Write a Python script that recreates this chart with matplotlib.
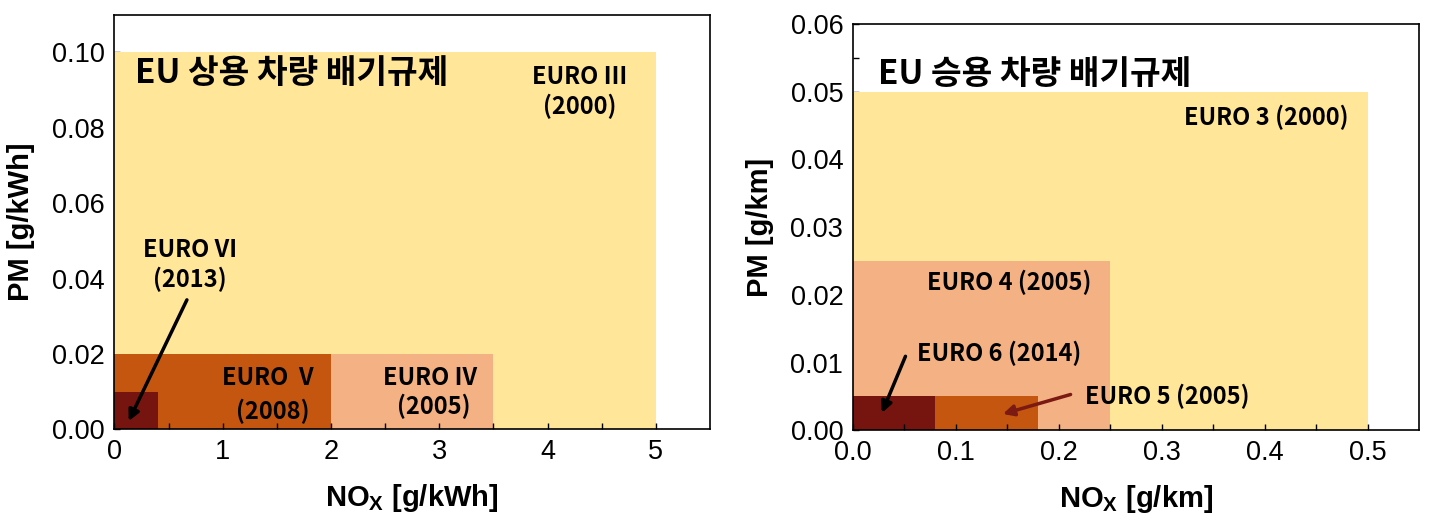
import matplotlib.pyplot as plt
from matplotlib.patches import Rectangle

plt.rcParams['font.family'] = ['Liberation Sans', 'DejaVu Sans']
plt.rcParams['mathtext.fontset'] = 'custom'
plt.rcParams['mathtext.rm'] = 'Liberation Sans:bold'

KR = ['Noto Sans CJK KR', 'DejaVu Sans']

# 상용 차량 (heavy duty) - NOx [g/kWh], PM [g/kWh]
hd_stage = ['EURO III', 'EURO IV', 'EURO V', 'EURO VI']
hd_nox = [5.0, 3.5, 2.0, 0.4]
hd_pm = [0.10, 0.02, 0.02, 0.01]

# 승용 차량 (passenger car) - NOx [g/km], PM [g/km]
pc_stage = ['EURO 3', 'EURO 4', 'EURO 5', 'EURO 6']
pc_nox = [0.50, 0.25, 0.18, 0.08]
pc_pm = [0.05, 0.025, 0.005, 0.005]

colors = ['#FFE699', '#F4B183', '#C4560F', '#76150F']

fig = plt.figure(figsize=(14.49, 5.28), dpi=100)
ax1 = fig.add_axes([0.079, 0.187, 0.411, 0.785])
ax2 = fig.add_axes([0.5887, 0.185, 0.3906, 0.770])


def draw_boxes(ax, nox, pm):
    for i in range(len(nox)):
        ax.add_patch(Rectangle((0, 0), nox[i], pm[i], facecolor=colors[i],
                               edgecolor='none', zorder=1))


def style(ax, xlim, ylim, xticks, yticks, xminor, yminor, xlab, ylab):
    ax.set_xlim(xlim)
    ax.set_ylim(ylim)
    ax.set_xticks(xticks)
    ax.set_yticks(yticks)
    ax.set_xticks(xminor, minor=True)
    ax.set_yticks(yminor, minor=True)
    ax.tick_params(which='both', direction='in', length=4, width=1,
                   labelsize=19.5, pad=7, top=False, right=False)
    ax.yaxis.set_zorder(0.5)
    for s in ax.spines.values():
        s.set_linewidth(1.2)
    ax.set_xlabel(xlab, fontsize=21, fontweight='bold', labelpad=12)
    ax.set_ylabel(ylab, fontsize=21, fontweight='bold', labelpad=12)


def label(ax, x, y, s, size=17, **kw):
    ax.text(x, y, s, family=KR, fontsize=size, fontweight='bold',
            ha='center', va='center', **kw)


# ---- 왼쪽: 상용 차량 ----
draw_boxes(ax1, hd_nox, hd_pm)
style(ax1, (0, 5.5), (0, 0.11), [0, 1, 2, 3, 4, 5],
      [0.00, 0.02, 0.04, 0.06, 0.08, 0.10],
      [0.5, 1.5, 2.5, 3.5, 4.5], [0.01, 0.03, 0.05, 0.07, 0.09],
      r'NO$_\mathrm{X}$ [g/kWh]', 'PM [g/kWh]')
ax1.yaxis.set_major_formatter(plt.FormatStrFormatter('%.2f'))

ax1.text(0.19, 0.0945, 'EU 상용 차량 배기규제', family=KR, fontsize=24,
         fontweight='bold', ha='left', va='center')
label(ax1, 4.3, 0.0895, 'EURO Ⅲ\n(2000)', linespacing=1.25)
label(ax1, 0.7, 0.0435, 'EURO VI\n(2013)', linespacing=1.25)
label(ax1, 1.42, 0.0136, 'EURO  V')
label(ax1, 1.46, 0.0048, '(2008)')
label(ax1, 2.91, 0.0136, 'EURO IV')
label(ax1, 2.95, 0.0061, '(2005)')
ax1.annotate('', xy=(0.12, 0.0015), xytext=(0.68, 0.035),
             arrowprops=dict(arrowstyle='-|>', color='black', lw=2.5,
                             mutation_scale=16))

# ---- 오른쪽: 승용 차량 ----
draw_boxes(ax2, pc_nox, pc_pm)
style(ax2, (0, 0.55), (0, 0.06), [0.0, 0.1, 0.2, 0.3, 0.4, 0.5],
      [0.00, 0.01, 0.02, 0.03, 0.04, 0.05, 0.06],
      [0.05, 0.15, 0.25, 0.35, 0.45], [0.055],
      r'NO$_\mathrm{X}$ [g/km]', 'PM [g/km]')
ax2.yaxis.set_major_formatter(plt.FormatStrFormatter('%.2f'))
ax2.xaxis.set_major_formatter(plt.FormatStrFormatter('%.1f'))

ax2.text(0.024, 0.0525, 'EU 승용 차량 배기규제', family=KR, fontsize=24,
         fontweight='bold', ha='left', va='center')
label(ax2, 0.402, 0.0461, 'EURO 3 (2000)')
label(ax2, 0.152, 0.0218, 'EURO 4 (2005)')
label(ax2, 0.142, 0.0113, 'EURO 6 (2014)')
label(ax2, 0.305, 0.0050, 'EURO 5 (2005)')
ax2.annotate('', xy=(0.027, 0.0022), xytext=(0.052, 0.0113),
             arrowprops=dict(arrowstyle='-|>', color='black', lw=2.5,
                             mutation_scale=16))
ax2.annotate('', xy=(0.143, 0.0023), xytext=(0.214, 0.0054),
             arrowprops=dict(arrowstyle='-|>', color='#7A1A12', lw=2.5,
                             mutation_scale=16))

fig.savefig('out.png', dpi=100)
